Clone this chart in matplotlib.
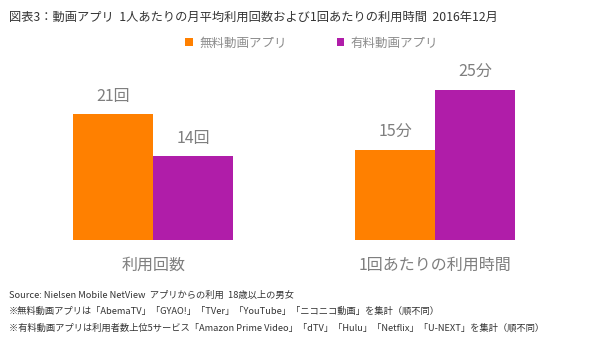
import matplotlib
matplotlib.use("Agg")
import matplotlib.pyplot as plt
import numpy as np

plt.rcParams['font.family'] = ['Noto Sans CJK JP', 'DejaVu Sans']

# Data
categories = ["利用回数", "1回あたりの利用時間"]
series_names = ["無料動画アプリ", "有料動画アプリ"]
free_values = [21, 15]
paid_values = [14, 25]
units = ["回", "分"]
colors = ["#FF8000", "#B01DA9"]

title = "図表3：動画アプリ  1人あたりの月平均利用回数および1回あたりの利用時間  2016年12月"
notes = [
    "Source: Nielsen Mobile NetView  アプリからの利用  18歳以上の男女",
    "※無料動画アプリは「AbemaTV」「GYAO!」「TVer」「YouTube」「ニコニコ動画」を集計（順不同）",
    "※有料動画アプリは利用者数上位5サービス「Amazon Prime Video」「dTV」「Hulu」「Netflix」「U-NEXT」を集計（順不同）",
]

fig = plt.figure(figsize=(5.9, 3.49), dpi=100)
ax = fig.add_axes([0.0211, 0.3123, 0.955, 0.5158])

x = np.arange(len(categories))
w = 0.284
bars_free = ax.bar(x - w / 2, free_values, w, color=colors[0], label=series_names[0])
bars_paid = ax.bar(x + w / 2, paid_values, w, color=colors[1], label=series_names[1])

# Value labels above each bar
for bars, vals in [(bars_free, free_values), (bars_paid, paid_values)]:
    for b, v, u in zip(bars, vals, units):
        ax.annotate(f"{v}{u}", (b.get_x() + b.get_width() / 2, v),
                    xytext=(0, 12.7), textcoords="offset points",
                    ha="center", va="center", fontsize=11.5, color="#7F7F7F")

ax.set_xlim(-0.5, 1.5)
ax.set_ylim(0, 30)
ax.set_xticks(x, categories, fontsize=11.5, color="#7F7F7F")
ax.tick_params(axis="x", length=0, pad=12)
ax.set_yticks([])
for s in ax.spines.values():
    s.set_visible(False)

fig.legend(loc="center", bbox_to_anchor=(0.528, 0.877), ncol=2, frameon=False,
           fontsize=9, labelcolor="#8C8C8C", handlelength=0.6, handleheight=0.6,
           handletextpad=0.5, columnspacing=4.0)

fig.text(9 / 590, 1 - 17 / 349, title, fontsize=8.8, color="#333333", va="center")
for i, line in enumerate(notes):
    fig.text(9 / 590, 1 - (295 + 16.5 * i) / 349, line, fontsize=6.7, color="#333333", va="center")

fig.savefig("out.png", dpi=100)
